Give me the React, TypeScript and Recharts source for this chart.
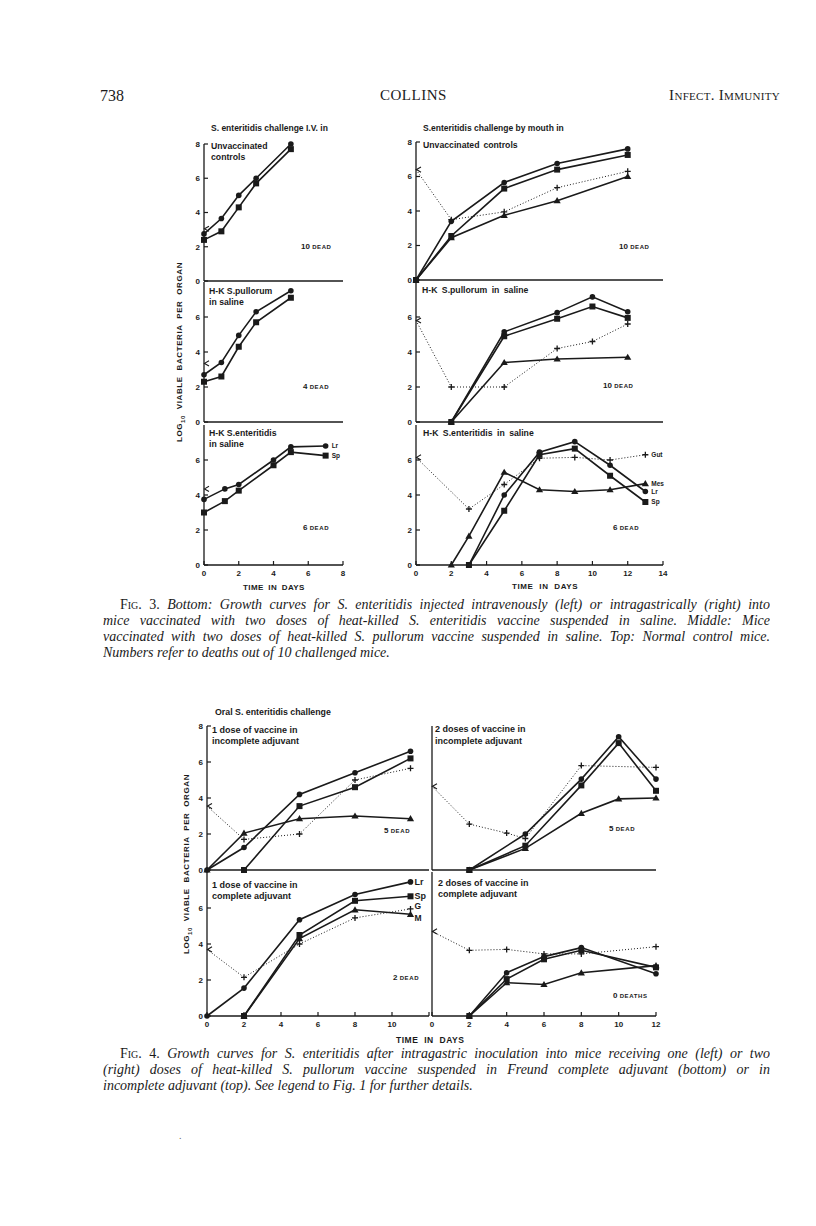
import React from 'react';
import { LineChart, Line, XAxis, YAxis } from 'recharts';

const INK = '#1a1a1a';
const SANS = '"Liberation Sans", Arial, Helvetica, sans-serif';
const SERIF = '"Liberation Serif", "Times New Roman", serif';

// Fig. 3, left column: S. enteritidis challenge I.V. (log10 counts, days)
const ivCtrlDays = [0, 1, 2, 3, 5];
const ivCtrlLr = [2.75, 3.65, 5.0, 6.0, 8.0];
const ivCtrlSp = [2.4, 2.9, 4.3, 5.7, 7.7];
const ivCtrlDose = [3.05];

const ivPulDays = [0, 1, 2, 3, 5];
const ivPulLr = [2.7, 3.4, 4.95, 6.3, 7.5];
const ivPulSp = [2.3, 2.6, 4.3, 5.7, 7.1];
const ivPulDose = [3.35];

const ivEntDays = [0, 1.2, 2, 4, 5, 7];
const ivEntLr = [3.75, 4.35, 4.6, 6.0, 6.75, 6.8];
const ivEntSp = [3.0, 3.65, 4.25, 5.7, 6.45, 6.25];
const ivEntDose = [4.35];

// Fig. 3, right column: challenge by mouth
const orCtrlDays = [0, 2, 5, 8, 12];
const orCtrlLr = [0, 3.4, 5.65, 6.75, 7.6];
const orCtrlSp = [0, 2.55, 5.3, 6.4, 7.25];
const orCtrlMes = [0, 2.45, 3.75, 4.6, 6.0];
const orCtrlGut = [6.4, 3.5, 3.95, 5.35, 6.3];

const orPulDays = [2, 5, 8, 10, 12];
const orPulLr = [0, 5.15, 6.25, 7.15, 6.3];
const orPulSp = [0, 4.9, 5.9, 6.6, 5.95];
const orPulMesDays = [2, 5, 8, 12];
const orPulMes = [0, 3.4, 3.6, 3.7];
const orPulGutDays = [0, 2, 5, 8, 10, 12];
const orPulGut = [5.8, 2.0, 2.0, 4.2, 4.6, 5.6];

const orEntMesDays = [2, 3, 5, 7, 9, 11, 13];
const orEntMes = [0, 1.65, 5.3, 4.3, 4.2, 4.3, 4.65];
const orEntDays = [3, 5, 7, 9, 11, 13];
const orEntLr = [0, 4.0, 6.45, 7.05, 5.7, 4.2];
const orEntSp = [0, 3.1, 6.3, 6.65, 5.1, 3.6];
const orEntGutDays = [0, 3, 5, 7, 9, 11, 13];
const orEntGut = [6.15, 3.2, 4.6, 6.1, 6.15, 6.0, 6.3];

// Fig. 4: oral challenge after vaccine in adjuvant
const inc1Days = [0, 2, 5, 8, 11];
const inc1Lr = [0, 1.25, 4.2, 5.4, 6.6];
const inc1SpDays = [2, 5, 8, 11];
const inc1Sp = [0, 3.55, 4.6, 6.2];
const inc1Mes = [0, 2.05, 2.85, 3.0, 2.85];
const inc1Gut = [3.55, 1.7, 2.0, 5.0, 5.65];

const inc2Days = [2, 5, 8, 10, 12];
const inc2Lr = [0, 2.0, 5.05, 7.4, 5.05];
const inc2Sp = [0, 1.35, 4.7, 7.05, 4.4];
const inc2Mes = [0, 1.2, 3.15, 3.95, 4.0];
const inc2GutDays = [0, 2, 4, 5, 8, 12];
const inc2Gut = [4.65, 2.55, 2.05, 1.75, 5.8, 5.7];

const com1Days = [0, 2, 5, 8, 11];
const com1Lr = [0, 1.55, 5.35, 6.75, 7.45];
const com1OtherDays = [2, 5, 8, 11];
const com1Sp = [0, 4.5, 6.4, 6.65];
const com1M = [0, 4.3, 5.9, 5.65];
const com1G = [3.7, 2.15, 4.0, 5.45, 5.95];

const com2Days = [2, 4, 6, 8, 12];
const com2Lr = [0, 2.4, 3.3, 3.8, 2.35];
const com2Sp = [0, 2.05, 3.15, 3.65, 2.7];
const com2Mes = [0, 1.85, 1.75, 2.4, 2.8];
const com2GutDays = [0, 2, 4, 6, 8, 12];
const com2Gut = [4.7, 3.65, 3.7, 3.45, 3.45, 3.85];

const xTicks8 = [0, 2, 4, 6, 8];
const xTicks12 = [0, 2, 4, 6, 8, 10, 12];
const xTicks14 = [0, 2, 4, 6, 8, 10, 12, 14];
const yTicksTop = [0, 2, 4, 6, 8];
const yTicksLow = [0, 2, 4, 6];

type Mark = 'circle' | 'square' | 'triangle' | 'cross' | 'inoc';
interface Curve {
    name: string;
    days: number[];
    vals: number[];
    mark: Mark;
    dotted?: boolean;
    tag?: string;
    tagSize?: number;
    tagDx?: number;
    tagDy?: number;
}

const pts = (days: number[], vals: number[]) => days.map((d, i) => ({ day: d, v: vals[i] }));

const drawMark = (mark: Mark, cx: number, cy: number) => {
    switch (mark) {
        case 'circle':
            return <circle cx={cx} cy={cy} r={2.8} fill={INK} />;
        case 'square':
            return <rect x={cx - 3} y={cy - 3} width={6} height={6} fill={INK} />;
        case 'triangle':
            return <path d={`M${cx},${cy - 3.6}L${cx + 3.6},${cy + 2.6}L${cx - 3.6},${cy + 2.6}Z`} fill={INK} />;
        case 'cross':
            return <path d={`M${cx - 3},${cy}H${cx + 3}M${cx},${cy - 3}V${cy + 3}`} stroke={INK} strokeWidth={1.3} fill="none" />;
        default:
            return <path d={`M${cx + 5},${cy - 2.6}L${cx + 0.5},${cy}L${cx + 5},${cy + 2.6}`} stroke={INK} strokeWidth={1.1} fill="none" />;
    }
};

const makeDot = (c: Curve) => (p: any) => {
    const { cx, cy, index } = p;
    if (cx == null || cy == null) return <g key={`${c.name}-${index}`} />;
    const mark: Mark = c.dotted && index === 0 && c.days[0] === 0 ? 'inoc' : c.mark;
    const last = index === c.days.length - 1;
    return (
        <g key={`${c.name}-${index}`}>
            {drawMark(mark, cx, cy)}
            {last && c.tag ? (
                <text x={cx + (c.tagDx ?? 6)} y={cy + (c.tagDy ?? 0)} dy="0.35em" fontSize={c.tagSize ?? 6.5} fontWeight={700} fontFamily={SANS} fill={INK}>
                    {c.tag}
                </text>
            ) : null}
        </g>
    );
};

interface PanelProps {
    x0: number; x1: number; yTop: number; yBottom: number;
    xMax: number; xTicks: number[]; xLabels?: boolean; hideLastX?: boolean;
    yTicks: number[]; yLabels?: boolean; curves: Curve[];
}

const YW = 26, TM = 8, RM = 26, XH = 20;
const tickText = { fontSize: 8, fontWeight: 700, fill: INK, fontFamily: SANS };

const Panel = ({ x0, x1, yTop, yBottom, xMax, xTicks, xLabels, hideLastX, yTicks, yLabels, curves }: PanelProps) => {
    const width = x1 - x0 + YW + RM;
    const height = yBottom - yTop + TM + XH;
    return (
        <div style={{ position: 'absolute', left: x0 - YW, top: yTop - TM }}>
            <LineChart width={width} height={height} margin={{ top: TM, right: RM, bottom: 0, left: 0 }}>
                <XAxis
                    type="number" dataKey="day" domain={[0, xMax]} ticks={xTicks} interval={0} height={XH}
                    axisLine={{ stroke: INK, strokeWidth: 1.3 }} tickLine={{ stroke: INK, strokeWidth: 1.2 }}
                    tickSize={-4} tickMargin={9}
                    tick={xLabels ? tickText : false}
                    tickFormatter={(v: number) => (hideLastX && v === xMax ? '' : String(v))}
                />
                <YAxis
                    type="number" domain={[0, 8]} ticks={yTicks} interval={0} width={YW}
                    axisLine={{ stroke: INK, strokeWidth: 1.3 }} tickLine={{ stroke: INK, strokeWidth: 1.2 }}
                    tickSize={-4} tickMargin={8}
                    tick={yLabels ? tickText : false}
                />
                {curves.map((c) => (
                    <Line
                        key={c.name}
                        data={pts(c.days, c.vals)}
                        dataKey="v"
                        type="linear"
                        stroke={c.mark === 'inoc' ? 'none' : INK}
                        strokeWidth={c.dotted ? 1 : 1.6}
                        strokeDasharray={c.dotted ? '1 2' : undefined}
                        dot={makeDot(c)}
                        activeDot={false}
                        isAnimationActive={false}
                    />
                ))}
            </LineChart>
        </div>
    );
};

const Note = ({ x, y, size = 8.7, children, style }: { x: number; y: number; size?: number; children: React.ReactNode; style?: React.CSSProperties }) => (
    <div
        style={{
            position: 'absolute', left: x, top: y - size * 0.6, fontFamily: SANS, fontWeight: 700,
            fontSize: size, lineHeight: `${size * 1.2}px`, color: INK, whiteSpace: 'nowrap', ...style,
        }}
    >
        {children}
    </div>
);

const Dead = ({ x, y, n, word = 'DEAD' }: { x: number; y: number; n: string; word?: string }) => (
    <Note x={x} y={y} size={8}>
        {n} <span style={{ fontSize: 6, letterSpacing: 0.6 }}>{word}</span>
    </Note>
);

const YTitle = ({ cx, cy }: { cx: number; cy: number }) => (
    <div
        style={{
            position: 'absolute', left: cx - 100, top: cy - 6, width: 200, height: 12, textAlign: 'center',
            transform: 'rotate(-90deg)', fontFamily: SANS, fontWeight: 700, fontSize: 8, lineHeight: '12px',
            letterSpacing: 0.6, wordSpacing: 3, color: INK, whiteSpace: 'nowrap',
        }}
    >
        LOG<sub style={{ fontSize: 6 }}>10</sub> VIABLE BACTERIA PER ORGAN
    </div>
);

const capLine: React.CSSProperties = {
    height: 16, lineHeight: '16px', textAlign: 'justify', textAlignLast: 'justify', whiteSpace: 'normal', overflow: 'hidden',
};
const figTag: React.CSSProperties = { fontStyle: 'normal', fontVariant: 'small-caps' };

const Caption = ({ top, tag, lines }: { top: number; tag: string; lines: string[] }) => (
    <div style={{ position: 'absolute', left: 103, top, width: 667, fontFamily: SERIF, fontStyle: 'italic', fontSize: 14, color: INK }}>
        {lines.map((l, i) => (
            <div
                key={i}
                style={{
                    ...capLine,
                    paddingLeft: i === 0 ? 17 : 0,
                    textAlignLast: i === lines.length - 1 ? 'left' : 'justify',
                }}
            >
                {i === 0 ? <span style={figTag}>{tag} </span> : null}
                {l}
            </div>
        ))}
    </div>
);

export default function App() {
    return (
        <div style={{ position: 'absolute', left: 0, top: 0, width: 816, height: 1226, background: '#fff', overflow: 'hidden' }}>
            {/* running head */}
            <div style={{ position: 'absolute', left: 100, top: 87, fontFamily: SERIF, fontSize: 16, color: INK }}>738</div>
            <div style={{ position: 'absolute', left: 380, top: 87, fontFamily: SERIF, fontSize: 15, color: INK, letterSpacing: 0.5 }}>COLLINS</div>
            <div style={{ position: 'absolute', right: 36, top: 87, fontFamily: SERIF, fontSize: 15, color: INK, fontVariant: 'small-caps', letterSpacing: 0.3 }}>
                Infect. Immunity
            </div>

            {/* ---------- Fig. 3 ---------- */}
            <Note x={211} y={128} size={8.5}>S. enteritidis challenge I.V. in</Note>
            <Note x={423} y={128} size={8.5}>S.enteritidis challenge by mouth in</Note>
            <YTitle cx={180} cy={352} />

            <Panel x0={204} x1={343} yTop={144} yBottom={281} xMax={8} xTicks={xTicks8} yTicks={yTicksTop} yLabels
                curves={[
                    { name: 'lr', days: ivCtrlDays, vals: ivCtrlLr, mark: 'circle' },
                    { name: 'sp', days: ivCtrlDays, vals: ivCtrlSp, mark: 'square' },
                    { name: 'dose', days: [0], vals: ivCtrlDose, mark: 'inoc' },
                ]} />
            <Panel x0={204} x1={343} yTop={282} yBottom={422} xMax={8} xTicks={xTicks8} yTicks={yTicksLow} yLabels
                curves={[
                    { name: 'lr', days: ivPulDays, vals: ivPulLr, mark: 'circle' },
                    { name: 'sp', days: ivPulDays, vals: ivPulSp, mark: 'square' },
                    { name: 'dose', days: [0], vals: ivPulDose, mark: 'inoc' },
                ]} />
            <Panel x0={204} x1={343} yTop={425} yBottom={565} xMax={8} xTicks={xTicks8} xLabels yTicks={yTicksLow} yLabels
                curves={[
                    { name: 'lr', days: ivEntDays, vals: ivEntLr, mark: 'circle', tag: 'Lr' },
                    { name: 'sp', days: ivEntDays, vals: ivEntSp, mark: 'square', tag: 'Sp' },
                    { name: 'dose', days: [0], vals: ivEntDose, mark: 'inoc' },
                ]} />

            <Panel x0={416} x1={663} yTop={142} yBottom={280} xMax={14} xTicks={xTicks14} yTicks={yTicksTop} yLabels
                curves={[
                    { name: 'gut', days: orCtrlDays, vals: orCtrlGut, mark: 'cross', dotted: true },
                    { name: 'mes', days: orCtrlDays, vals: orCtrlMes, mark: 'triangle' },
                    { name: 'sp', days: orCtrlDays, vals: orCtrlSp, mark: 'square' },
                    { name: 'lr', days: orCtrlDays, vals: orCtrlLr, mark: 'circle' },
                ]} />
            <Panel x0={416} x1={663} yTop={282} yBottom={422} xMax={14} xTicks={xTicks14} yTicks={yTicksLow} yLabels
                curves={[
                    { name: 'gut', days: orPulGutDays, vals: orPulGut, mark: 'cross', dotted: true },
                    { name: 'mes', days: orPulMesDays, vals: orPulMes, mark: 'triangle' },
                    { name: 'sp', days: orPulDays, vals: orPulSp, mark: 'square' },
                    { name: 'lr', days: orPulDays, vals: orPulLr, mark: 'circle' },
                ]} />
            <Panel x0={416} x1={663} yTop={425} yBottom={565} xMax={14} xTicks={xTicks14} xLabels yTicks={yTicksLow} yLabels
                curves={[
                    { name: 'gut', days: orEntGutDays, vals: orEntGut, mark: 'cross', dotted: true, tag: 'Gut', tagDx: 6 },
                    { name: 'mes', days: orEntMesDays, vals: orEntMes, mark: 'triangle', tag: 'Mes', tagDx: 6 },
                    { name: 'sp', days: orEntDays, vals: orEntSp, mark: 'square', tag: 'Sp', tagDx: 6 },
                    { name: 'lr', days: orEntDays, vals: orEntLr, mark: 'circle', tag: 'Lr', tagDx: 6 },
                ]} />

            <Note x={211} y={146}>Unvaccinated</Note>
            <Note x={211} y={157}>controls</Note>
            <Note x={423} y={145} style={{ wordSpacing: 1.5 }}>Unvaccinated controls</Note>
            <Note x={209} y={291}>H-K S.pullorum</Note>
            <Note x={209} y={302}>in saline</Note>
            <Note x={422} y={290} style={{ wordSpacing: 2 }}>H-K S.pullorum in saline</Note>
            <Note x={209} y={433}>H-K S.enteritidis</Note>
            <Note x={209} y={444}>in saline</Note>
            <Note x={423} y={433} style={{ wordSpacing: 2 }}>H-K S.enteritidis in saline</Note>

            <Dead x={301} y={247} n="10" />
            <Dead x={619} y={247} n="10" />
            <Dead x={303} y={387} n="4" />
            <Dead x={603} y={386} n="10" />
            <Dead x={303} y={528} n="6" />
            <Dead x={613} y={528} n="6" />

            <Note x={243} y={588} size={8} style={{ letterSpacing: 0.4, wordSpacing: 2 }}>TIME IN DAYS</Note>
            <Note x={512} y={587} size={8} style={{ letterSpacing: 0.6, wordSpacing: 3 }}>TIME IN DAYS</Note>

            <Caption
                top={597}
                tag="Fig. 3."
                lines={[
                    'Bottom: Growth curves for S. enteritidis injected intravenously (left) or intragastrically (right) into',
                    'mice vaccinated with two doses of heat-killed S. enteritidis vaccine suspended in saline. Middle: Mice',
                    'vaccinated with two doses of heat-killed S. pullorum vaccine suspended in saline. Top: Normal control mice.',
                    'Numbers refer to deaths out of 10 challenged mice.',
                ]}
            />

            {/* ---------- Fig. 4 ---------- */}
            <Note x={215} y={712} size={8.8}>Oral S. enteritidis challenge</Note>
            <YTitle cx={187} cy={864} />

            <Panel x0={207} x1={429} yTop={726} yBottom={870} xMax={12} xTicks={xTicks12} yTicks={yTicksTop} yLabels
                curves={[
                    { name: 'gut', days: inc1Days, vals: inc1Gut, mark: 'cross', dotted: true },
                    { name: 'mes', days: inc1Days, vals: inc1Mes, mark: 'triangle' },
                    { name: 'sp', days: inc1SpDays, vals: inc1Sp, mark: 'square' },
                    { name: 'lr', days: inc1Days, vals: inc1Lr, mark: 'circle' },
                ]} />
            <Panel x0={432} x1={656} yTop={726} yBottom={870} xMax={12} xTicks={xTicks12} yTicks={yTicksTop}
                curves={[
                    { name: 'gut', days: inc2GutDays, vals: inc2Gut, mark: 'cross', dotted: true },
                    { name: 'mes', days: inc2Days, vals: inc2Mes, mark: 'triangle' },
                    { name: 'sp', days: inc2Days, vals: inc2Sp, mark: 'square' },
                    { name: 'lr', days: inc2Days, vals: inc2Lr, mark: 'circle' },
                ]} />
            <Panel x0={207} x1={429} yTop={872} yBottom={1016} xMax={12} xTicks={xTicks12} xLabels hideLastX yTicks={yTicksLow} yLabels
                curves={[
                    { name: 'g', days: com1Days, vals: com1G, mark: 'cross', dotted: true, tag: 'G', tagSize: 8.5, tagDx: 4, tagDy: -3 },
                    { name: 'm', days: com1OtherDays, vals: com1M, mark: 'triangle', tag: 'M', tagSize: 8.5, tagDx: 4, tagDy: 4 },
                    { name: 'sp', days: com1OtherDays, vals: com1Sp, mark: 'square', tag: 'Sp', tagSize: 9, tagDx: 4 },
                    { name: 'lr', days: com1Days, vals: com1Lr, mark: 'circle', tag: 'Lr', tagSize: 9, tagDx: 4 },
                ]} />
            <Panel x0={432} x1={656} yTop={872} yBottom={1016} xMax={12} xTicks={xTicks12} xLabels yTicks={yTicksLow}
                curves={[
                    { name: 'gut', days: com2GutDays, vals: com2Gut, mark: 'cross', dotted: true },
                    { name: 'mes', days: com2Days, vals: com2Mes, mark: 'triangle' },
                    { name: 'sp', days: com2Days, vals: com2Sp, mark: 'square' },
                    { name: 'lr', days: com2Days, vals: com2Lr, mark: 'circle' },
                ]} />

            <Note x={212} y={730} size={9}>1 dose of vaccine in</Note>
            <Note x={212} y={741} size={9}>incomplete adjuvant</Note>
            <Note x={435} y={729} size={9}>2 doses of vaccine in</Note>
            <Note x={435} y={741} size={9}>incomplete adjuvant</Note>
            <Note x={212} y={885} size={9}>1 dose of vaccine in</Note>
            <Note x={212} y={896} size={9}>complete adjuvant</Note>
            <Note x={438} y={883} size={9}>2 doses of vaccine in</Note>
            <Note x={438} y={894} size={9}>complete adjuvant</Note>

            <Dead x={384} y={831} n="5" />
            <Dead x={609} y={829} n="5" />
            <Dead x={393} y={978} n="2" />
            <Dead x={613} y={996} n="0" word="DEATHS" />

            <Note x={396} y={1040} size={8.5} style={{ letterSpacing: 0.5, wordSpacing: 3 }}>TIME IN DAYS</Note>

            <Caption
                top={1046}
                tag="Fig. 4."
                lines={[
                    'Growth curves for S. enteritidis after intragastric inoculation into mice receiving one (left) or two',
                    '(right) doses of heat-killed S. pullorum vaccine suspended in Freund complete adjuvant (bottom) or in',
                    'incomplete adjuvant (top). See legend to Fig. 1 for further details.',
                ]}
            />

            <div style={{ position: 'absolute', left: 179, top: 1130, fontFamily: SERIF, fontSize: 10, color: '#666' }}>.</div>
        </div>
    );
}
